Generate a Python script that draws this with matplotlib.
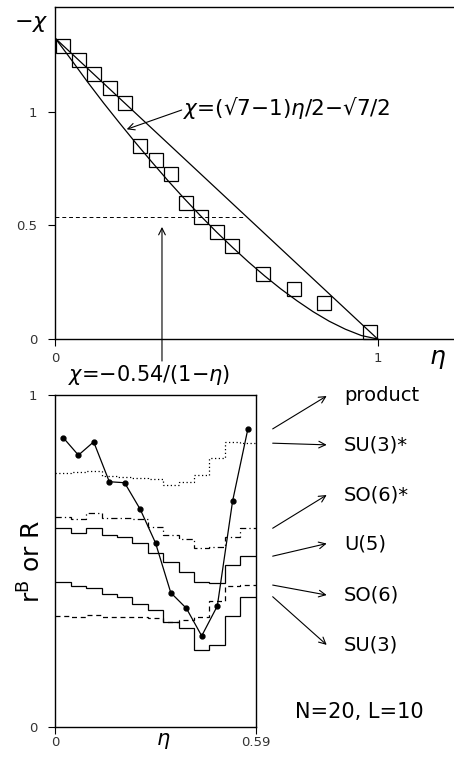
import numpy as np
import matplotlib
matplotlib.use("Agg")
import matplotlib.pyplot as plt

plt.rcParams['font.family'] = ['DejaVu Sans']
plt.rcParams['mathtext.fontset'] = 'dejavusans'

# ---------------- data: top panel ----------------
sq_eta = [0.025, 0.072, 0.121, 0.169, 0.215, 0.263, 0.311, 0.358, 0.405, 0.453,
          0.502, 0.549, 0.645, 0.740, 0.835, 0.977]
sq_chi = [1.289, 1.227, 1.166, 1.103, 1.037, 0.849, 0.786, 0.724, 0.597, 0.535,
          0.472, 0.409, 0.284, 0.220, 0.157, 0.030]

line_eta = [0.0, 1.0]
line_chi = [1.323, 0.0]

curve_eta = [0.0, 0.05, 0.1, 0.15, 0.2, 0.25, 0.3, 0.35, 0.4, 0.45, 0.5, 0.55,
             0.6, 0.65, 0.7, 0.75, 0.8, 0.85, 0.9, 0.95, 1.0]
curve_chi = [1.323, 1.228, 1.131, 1.038, 0.949, 0.862, 0.778, 0.696, 0.618, 0.543,
             0.471, 0.403, 0.338, 0.277, 0.220, 0.168, 0.120, 0.078, 0.043, 0.015, 0.0]

dash_level = 0.537
dash_eta = [0.0, 0.59]

# ---------------- data: bottom panel ----------------
bin_edges = [0.0, 0.0454, 0.0908, 0.1362, 0.1815, 0.2269, 0.2723, 0.3177,
             0.3631, 0.4085, 0.4538, 0.4992, 0.5446, 0.59]
prod_eta = [0.023, 0.068, 0.113, 0.159, 0.204, 0.250, 0.295, 0.340, 0.386,
            0.431, 0.477, 0.522, 0.567]
product = [0.872, 0.819, 0.859, 0.739, 0.736, 0.656, 0.555, 0.405, 0.358,
           0.275, 0.365, 0.681, 0.898]
su3_star = [0.764, 0.767, 0.770, 0.757, 0.752, 0.749, 0.747, 0.729, 0.739,
            0.759, 0.810, 0.860, 0.855]
so6_star = [0.634, 0.627, 0.644, 0.631, 0.631, 0.626, 0.604, 0.579, 0.566,
            0.540, 0.544, 0.574, 0.599]
u5 = [0.599, 0.585, 0.599, 0.579, 0.572, 0.556, 0.526, 0.496, 0.468,
      0.436, 0.435, 0.488, 0.515]
so6 = [0.335, 0.331, 0.338, 0.331, 0.331, 0.332, 0.329, 0.318, 0.323,
       0.331, 0.379, 0.424, 0.428]
su3 = [0.437, 0.425, 0.420, 0.401, 0.391, 0.371, 0.353, 0.317, 0.298,
       0.233, 0.248, 0.335, 0.393]

labels = ['product', 'SU(3)*', 'SO(6)*', 'U(5)', 'SO(6)', 'SU(3)']
label_y = [0.997, 0.850, 0.699, 0.553, 0.398, 0.248]

W, H = 454, 757
fig = plt.figure(figsize=(W / 100, H / 100), dpi=100)


def fp(x, y):
    return (x / W, 1 - y / H)


tick_kw = dict(direction='out', length=5, width=0.8, labelsize=9.5,
               labelcolor='#333333', color='black')

# ---------------- top panel ----------------
ax1 = fig.add_axes([55.3 / W, 1 - 339 / H, 1 - 55.3 / W, (339 - 6.7) / H])
ax1.set_xlim(0, 1.237)
ax1.set_ylim(0, 1.462)
ax1.spines['right'].set_visible(False)
for s in ['left', 'top', 'bottom']:
    ax1.spines[s].set_linewidth(1.0)
ax1.set_xticks([0, 1])
ax1.set_xticklabels(['0', '1'])
ax1.set_yticks([0, 0.5, 1])
ax1.set_yticklabels(['0', '0.5', '1'])
ax1.tick_params(axis='y', pad=8, **tick_kw)
ax1.tick_params(axis='x', pad=4, **tick_kw)

ax1.plot(line_eta, line_chi, color='black', lw=0.9)
ax1.plot(curve_eta, curve_chi, color='black', lw=0.9)
ax1.plot(sq_eta, sq_chi, linestyle='none', marker='s', markersize=10,
         mfc='none', mec='black', mew=0.9, clip_on=False)
ax1.plot(dash_eta, [dash_level, dash_level], color='black', lw=0.7,
         linestyle=(0, (4, 3)))

ax1.annotate('', xy=(0.2215, 0.9226), xycoords='data',
             xytext=fp(181.7, 110), textcoords='figure fraction',
             arrowprops=dict(arrowstyle='->', lw=0.8, color='black',
                             shrinkA=0, shrinkB=0,
                             mutation_scale=12))
ax1.annotate('', xy=(0.331, 0.493), xycoords='data',
             xytext=(0.331, -0.097), textcoords='data',
             arrowprops=dict(arrowstyle='->', lw=0.8, color='black',
                             shrinkA=0, shrinkB=0, mutation_scale=12),
             annotation_clip=False)

fig.text(*fp(183, 108), r'$\chi$=(√7−1)$\eta$/2−√7/2', fontsize=15.5,
         ha='left', va='center')
fig.text(*fp(31, 24), r'$-\chi$', fontsize=16, ha='center', va='center')
fig.text(*fp(438, 359), r'$\eta$', fontsize=18, ha='center', va='center')

# ---------------- bottom panel ----------------
ax2 = fig.add_axes([55.3 / W, 1 - 727.3 / H, (255.7 - 55.3) / W, (727.3 - 395) / H])
ax2.set_xlim(0, 0.59)
ax2.set_ylim(0, 1)
for s in ax2.spines.values():
    s.set_linewidth(1.0)
ax2.set_xticks([0, 0.59])
ax2.set_xticklabels(['0', '0.59'])
ax2.set_yticks([0, 1])
ax2.set_yticklabels(['0', '1'])
ax2.tick_params(axis='y', pad=8, **tick_kw)
ax2.tick_params(axis='x', pad=1, **tick_kw)

ax2.stairs(su3_star, bin_edges, baseline=None, color='black', lw=0.9,
           linestyle=(0, (1, 2)))
ax2.stairs(so6_star, bin_edges, baseline=None, color='black', lw=0.9,
           linestyle=(0, (5, 2.5, 1, 2.5)))
ax2.stairs(u5, bin_edges, baseline=None, color='black', lw=0.9)
ax2.stairs(so6, bin_edges, baseline=None, color='black', lw=0.9,
           linestyle=(0, (4, 3)))
ax2.stairs(su3, bin_edges, baseline=None, color='black', lw=0.9)
ax2.plot(prod_eta, product, color='black', lw=0.9, marker='o', markersize=3.5)

last_vals = [product[-1], su3_star[-1], so6_star[-1], u5[-1], so6[-1], su3[-1]]
for lab, ly, lv in zip(labels, label_y, last_vals):
    ax2.annotate('', xy=(0.799, ly), xycoords='data',
                 xytext=(0.640, lv), textcoords='data',
                 arrowprops=dict(arrowstyle='->', lw=0.8, color='black',
                                 shrinkA=0, shrinkB=0, mutation_scale=12),
                 annotation_clip=False)
    ax2.text(0.850, ly, lab, fontsize=14, ha='left', va='center',
             clip_on=False)

ax2.text(0.705, 0.045, 'N=20, L=10', fontsize=15, ha='left', va='center',
         clip_on=False)

fig.text(*fp(68, 375), r'$\chi$=−0.54/(1−$\eta$)', fontsize=15,
         ha='left', va='center')
fig.text(*fp(163, 741), r'$\eta$', fontsize=15, ha='center', va='center')
fig.text(*fp(32, 561), r'r$^{\mathrm{B}}$ or R', fontsize=18, rotation=90,
         ha='center', va='center')

fig.savefig('out.png', dpi=100)
